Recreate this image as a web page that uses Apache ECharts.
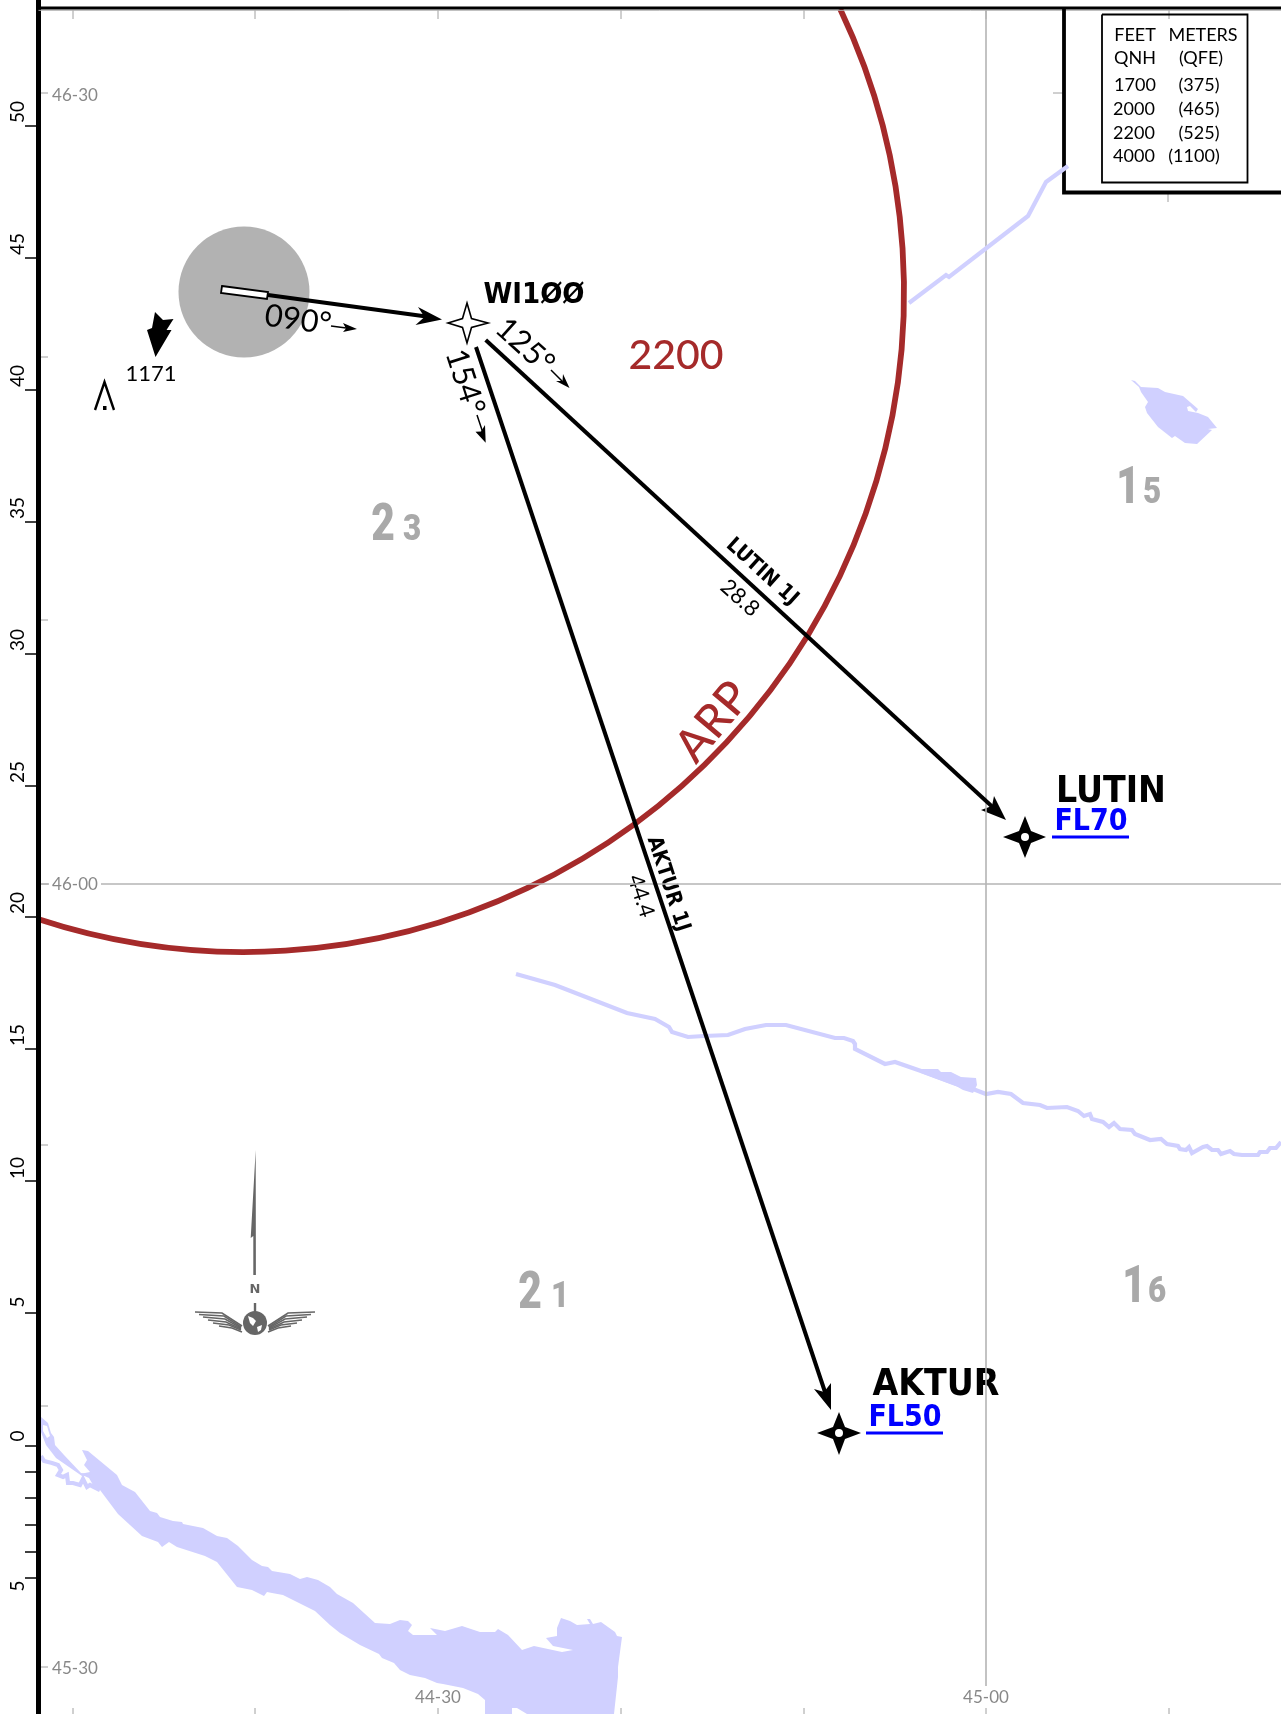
<!DOCTYPE html>
<html><head><meta charset="utf-8">
<script src="https://cdn.jsdelivr.net/npm/echarts@6/dist/echarts.min.js"></script>
<style>html,body{margin:0;padding:0;background:#fff}#c{width:1281px;height:1714px}</style>
</head><body><div id="c"></div>
<script>
// Map plane readings (x east, y south)
const planeWidth = 1281, planeHeight = 1714;
const lonTicks = [73, 255, 438, 621, 804, 986, 1169];
const latTicks = [93, 357, 620, 884, 1145, 1406, 1667];
const rulerMajor = [126, 258, 390, 522, 654, 786, 917, 1049, 1181, 1313, 1446, 1578];
const rulerMinor = [1472, 1498, 1525, 1552];
const rulerLabels = ['50','45','40','35','30','25','20','15','10','5','0','5'];
const rulerLabelAt = [112, 244, 376, 508, 640, 772, 903, 1035, 1168, 1302, 1436, 1586];

const arpCenter = [244, 292];
const arpRadius = 660;
const arpArcDeg = [-25.4, 108.2];
const aerodromeRadius = 65.5;

const frameLeft = [[38.5,0],[38.5,1714]];
const frameTop = [[38.5,8],[1281,8]];
const frameTopShade = [[38.5,10.3],[1281,10.3]];
const legendOuter = [[1064,8],[1064,192.5],[1281,192.5]];
const legendInner = [[1102,14.5],[1247.5,14.5],[1247.5,182.5],[1102,182.5],[1102,14.5]];
const legendStubs = [[[1053,93],[1063,93]],[[1168,194],[1168,202]]];

const meridian45 = [[986,10],[986,1686]];
const parallel46 = [[41,884],[49,884]];
const parallel46b = [[101,884],[1281,884]];

const riverNorth = [[909,303],[946,275],[949,277],[1028,216],[1046,182],[1068,166]];
const riverMain = [[516,974],[555,985],[627,1013],[655,1019],[669,1027],[672,1032],[688,1037],[704,1036],[728,1035],[745,1029],[766,1025],[786,1025],[835,1038],[844,1038],[853,1041],[855,1044],[855,1049],[885,1064],[895,1062],[921,1071],[956,1084],[973,1089],[986,1094],[998,1092],[1011,1094],[1023,1103],[1040,1105],[1047,1108],[1067,1107],[1078,1111],[1084,1116],[1090,1114],[1092,1119],[1103,1122],[1109,1127],[1114,1123],[1120,1129],[1132,1130],[1135,1134],[1150,1140],[1161,1139],[1167,1144],[1178,1146],[1180,1149],[1186,1150],[1189,1147],[1192,1153],[1203,1147],[1207,1146],[1212,1150],[1218,1150],[1221,1154],[1230,1151],[1234,1154],[1242,1155],[1258,1155],[1260,1152],[1267,1152],[1270,1148],[1276,1148],[1281,1142]];
const riverBulge = [[921,1069],[938,1069],[941,1072],[951,1072],[961,1077],[976,1078],[977,1085],[973,1093],[963,1090],[956,1086],[921,1073]];
const lake = [[1131,380],[1135,381],[1141,387],[1158,388],[1165,392],[1183,396],[1198,409],[1196,412],[1190,406],[1187,407],[1188,411],[1198,413],[1208,417],[1217,428],[1208,429],[1212,430],[1197,444],[1185,443],[1175,436],[1172,438],[1158,427],[1147,413],[1145,407],[1148,402],[1141,392],[1139,387]];
const bigRiver = [[82,1450],[88,1451],[117,1475],[122,1485],[135,1492],[150,1511],[157,1513],[160,1517],[173,1521],[182,1522],[183,1524],[203,1528],[217,1536],[227,1538],[238,1546],[252,1560],[262,1566],[268,1567],[272,1571],[290,1574],[300,1579],[307,1577],[318,1580],[330,1587],[337,1594],[353,1603],[375,1623],[390,1624],[400,1620],[408,1621],[412,1625],[408,1631],[413,1635],[437,1635],[430,1628],[445,1631],[462,1626],[480,1632],[495,1632],[498,1629],[508,1635],[522,1650],[534,1646],[562,1652],[573,1650],[553,1646],[546,1638],[557,1636],[557,1628],[561,1618],[570,1621],[577,1625],[590,1624],[587,1619],[590,1619],[593,1624],[601,1622],[615,1632],[617,1636],[622,1637],[618,1667],[618,1677],[614,1714],[527,1714],[517,1708],[512,1708],[512,1714],[485,1714],[485,1700],[478,1694],[463,1688],[443,1684],[437,1683],[425,1678],[410,1675],[400,1670],[394,1663],[382,1658],[379,1654],[360,1645],[340,1633],[330,1625],[315,1611],[297,1602],[283,1595],[272,1593],[267,1592],[264,1596],[252,1590],[237,1587],[217,1562],[205,1556],[177,1547],[169,1542],[162,1547],[158,1542],[142,1536],[118,1514],[100,1490],[93,1485],[89,1478],[80,1474],[90,1472],[84,1465],[87,1460]];
const riverWest = [[41,1417],[48,1423],[51,1433],[54,1437],[55,1445],[64,1455],[81,1473],[92,1475],[82,1476],[56,1458],[46,1445],[41,1432]];
const riverWestHole = [[43,1425],[47,1426],[50,1436],[47,1438],[43,1431]];
const riverWestArm = [[41,1456],[44,1461],[52,1463],[58,1465],[61,1470],[58,1475],[63,1477],[67,1475],[68,1483],[73,1483],[80,1485],[83,1479],[87,1487],[90,1485],[100,1490]];

const runway = [[222,286],[268,292],[267,299],[221,293]];
const outboundLeg = [[268,295],[430,317]];
const outboundHead = [[442,319.5],[418,307],[424.5,317],[415.5,325]];
const lutinLeg = [[485.7,340],[998,812]];
const lutinHead = [[1006,820],[994,796],[992,806],[981,810]];
const akturLeg = [[476,347],[826,1395]];
const akturHead = [[831,1410],[831,1383],[824,1392],[814,1389]];

const headingArrow090 = [[331,326],[350,328.5]];
const headingHead090 = [[357,329],[343,323],[346,328.5],[343,332]];
const headingArrow125 = [[551,370],[565,384]];
const headingHead125 = [[569.5,388],[563,374],[562.5,381],[556,381]];
const headingArrow154 = [[477,415],[484,436]];
const headingHead154 = [[485.7,442.7],[485,425],[481,431.5],[475.5,431.7]];

const fixWI100 = [[467,303],[471.5,318.5],[488,323],[471.5,327.5],[467,343],[462.5,327.5],[448,323],[462.5,318.5]];
const fixLutin = [[1025,816],[1031,831],[1046,837],[1031,843],[1025,858],[1019,843],[1003,837],[1019,831]];
const fixAktur = [[839,1412],[845,1427],[861,1433],[845,1439],[839,1455],[833,1439],[817,1433],[833,1427]];
const fixCentres = [[1025,837],[839,1433]];
const fl70Rule = [[1052,837],[1129,837]];
const fl50Rule = [[866,1433],[943,1433]];

const obstacleArrow = [[155,312],[163,320],[173.5,319],[166.5,330],[171.5,330],[155.5,357],[147,330],[152,328]];
const obstacleMast = [[95,410],[104.5,382],[114,410]];
const obstacleDot = [[103,406],[106.5,406],[106.5,410],[103,410]];

const needle = [[255.7,1150],[250.7,1238],[253.3,1236],[253.3,1275],[255.9,1275]];
const needleStem = [[255,1303],[255,1314]];
const globeCentre = [255,1323];
const globeRadius = 12;
const continentNorth = [[248,1316],[253,1318],[256,1321],[253,1326],[250,1323]];
const continentSouth = [[257,1327],[262,1325],[261,1330],[258,1332]];
const wingFeathers = [
  [[195,1312],[222,1313],[242,1326]],
  [[199,1314.5],[224,1316],[241,1327]],
  [[203,1317],[225,1319],[241,1328]],
  [[208,1320],[226,1322],[241,1329]],
  [[213,1323],[229,1325],[241,1330]],
  [[219,1326],[232,1328],[242,1332]],
  [[315,1312],[288,1313],[268,1326]],
  [[311,1314.5],[286,1316],[269,1327]],
  [[307,1317],[285,1319],[269,1328]],
  [[302,1320],[284,1322],[269,1329]],
  [[297,1323],[281,1325],[269,1330]],
  [[291,1326],[278,1328],[268,1332]]
];

// text, x, y, degrees counter-clockwise, look
const texts = [
  ['46-30',75,96,0,'coord'],['46-00',75,885,0,'coord'],['45-30',75,1669,0,'coord'],
  ['44-30',438,1698,0,'coord'],['45-00',986,1698,0,'coord'],
  ['090°',298,320,-8,'heading'],['125°',525,346,-42,'heading'],['154°',465,382,-72,'heading'],
  ['WI1ØØ',534,295,0,'fixSmall'],['LUTIN',1111,792,0,'fix'],['AKTUR',936,1385,0,'fix'],
  ['FL70',1091,822,0,'level'],['FL50',905,1418,0,'level'],
  ['LUTIN 1J',762,572,-42,'route'],['AKTUR 1J',668,884,-72,'route'],
  ['28.8',740,598,-42,'dist'],['44.4',641,896,-72,'dist'],
  ['2200',676,356,0,'alt'],['ARP',713,722,50,'arp'],
  ['1171',151,374,0,'elev'],
  ['FEET',1135,35,0,'legend'],['METERS',1203,35,0,'legend'],
  ['QNH',1135,58,0,'legend'],['(QFE)',1201,58,0,'legend'],
  ['1700',1135,85,0,'legend'],['(375)',1199,85,0,'legend'],
  ['2000',1134,109,0,'legend'],['(465)',1199,109,0,'legend'],
  ['2200',1134,133,0,'legend'],['(525)',1199,133,0,'legend'],
  ['4000',1134,156,0,'legend'],['(1100)',1194,156,0,'legend'],
  ['N',255,1290,0,'north']
];
// first digit, second digit of each sector altitude, with their anchors
const sectorDigits = [
  ['2',383,527,'mseaBig'],['3',412,531,'mseaSmall'],
  ['1',1128,490,'mseaBig'],['5',1152,494,'mseaSmall'],
  ['2',530,1295,'mseaBig'],['1',560,1298,'mseaSmall'],
  ['1',1134,1289,'mseaBig'],['6',1157,1293,'mseaSmall']
];

const LOOKS = {
  coord:{f:'Lato',s:17,c:'#888888'},
  heading:{f:'Lato',s:31,c:'#000'},
  fixSmall:{f:'DejaVu Sans Condensed',s:29,w:'bold',c:'#000'},
  fix:{f:'DejaVu Sans Condensed',s:37,w:'bold',c:'#000'},
  level:{f:'DejaVu Sans Condensed',s:30,w:'bold',c:'#0000ff'},
  route:{f:'DejaVu Sans Condensed',s:21,w:'bold',c:'#000'},
  dist:{f:'Lato',s:22,c:'#000'},
  alt:{f:'Lato',s:41,w:'500',c:'#a52a2a'},
  arp:{f:'Lato',s:46,w:'500',c:'#a52a2a'},
  elev:{f:'Lato',s:22,c:'#000'},
  legend:{f:'Lato',s:18,c:'#000'},
  north:{f:'DejaVu Sans',s:13,w:'bold',c:'#666'},
  ruler:{f:'Lato',s:19,c:'#000'},
  mseaBig:{f:'Roboto',s:51,w:'900',c:'#a9a9a9',sx:.8},
  mseaSmall:{f:'Roboto',s:37,w:'900',c:'#a9a9a9',sx:.85}
};

const series = [];
const base = {silent:true, animation:false, clip:false};
function polyline(points, color, width, extra){
  series.push(Object.assign({type:'line', data:points, showSymbol:false, symbol:'none',
    lineStyle:{color:color, width:width, join:'miter', cap:'butt'}}, base, extra||{}));
}
function polygon(points, fill, stroke, sw){
  series.push(Object.assign({type:'custom', data:[points[0]],
    renderItem:function(p, api){
      return {type:'polygon', shape:{points:points.map(function(q){return api.coord(q);})},
        style:{fill:fill, stroke:stroke||null, lineWidth:sw||0, lineJoin:'miter'}};
    }}, base));
}
function segments(pairs, color, width){
  series.push(Object.assign({type:'custom', data:pairs.map(function(q){return q[0];}),
    renderItem:function(p, api){
      const q = pairs[p.dataIndex], a = api.coord(q[0]), b = api.coord(q[1]);
      return {type:'line', shape:{x1:a[0],y1:a[1],x2:b[0],y2:b[1]}, style:{stroke:color, lineWidth:width}};
    }}, base));
}
function disc(centres, r, fill){
  series.push(Object.assign({type:'custom', data:centres,
    renderItem:function(p, api){
      const a = api.coord(centres[p.dataIndex]);
      return {type:'circle', shape:{cx:a[0],cy:a[1],r:api.size([r,0])[0]}, style:{fill:fill}};
    }}, base));
}
function textLayer(rows){
  series.push(Object.assign({type:'custom', data:rows.map(function(r){return [r[1],r[2]];}),
    renderItem:function(p, api){
      const r = rows[p.dataIndex], L = LOOKS[r[4]], a = api.coord([r[1],r[2]]);
      return {type:'text', x:a[0], y:a[1], rotation:r[3]*Math.PI/180, scaleX:L.sx||1,
        style:{text:r[0], x:0, y:0, align:'center', verticalAlign:'middle', fill:L.c,
          font:(L.w||'normal')+' '+L.s+'px "'+L.f+'"'}};
    }}, base));
}

// water
polyline(riverMain,'#d0d0ff',4.2);
polygon(riverBulge,'#d0d0ff');
polygon(lake,'#d0d0ff');
polygon(bigRiver,'#d0d0ff');
polygon(riverWest,'#d0d0ff');
polygon(riverWestHole,'#ffffff');
polyline(riverWestArm,'#d0d0ff',4.2);

// graticule
polyline(meridian45,'#b4b4b4',1.6);
polyline(parallel46,'#b4b4b4',1.6);
polyline(parallel46b,'#b4b4b4',1.6);
segments(lonTicks.map(function(x){return [[x,10],[x,19]];}),'#a0a0a0',1);
segments(lonTicks.map(function(x){return [[x,1708],[x,1714]];}),'#a0a0a0',1);
segments(latTicks.map(function(y){return [[41,y],[48,y]];}),'#a0a0a0',1);
segments(legendStubs,'#a0a0a0',1);

// ruler
segments(rulerMajor.map(function(y){return [[25,y],[37,y]];}),'#000',1.5);
segments(rulerMinor.map(function(y){return [[25,y],[37,y]];}),'#000',1.5);
const rulerRows = rulerLabels.map(function(t,i){return [t,17.5,rulerLabelAt[i],90,'ruler'];});

// aerodrome and ARP circle
disc([arpCenter],aerodromeRadius,'#b2b2b2');
series.push(Object.assign({type:'custom', data:[arpCenter],
  renderItem:function(p, api){
    const a = api.coord(arpCenter);
    return {type:'arc', shape:{cx:a[0],cy:a[1],r:api.size([arpRadius,0])[0],
      startAngle:arpArcDeg[0]*Math.PI/180,endAngle:arpArcDeg[1]*Math.PI/180,clockwise:true},
      style:{fill:null,stroke:'#a52a2a',lineWidth:5.8}};
  }}, base));

// routes
polyline(outboundLeg,'#000',3.8);
polygon(outboundHead,'#000');
polyline(lutinLeg,'#000',4);
polygon(lutinHead,'#000');
polyline(akturLeg,'#000',4);
polygon(akturHead,'#000');
polygon(runway,'#fff','#000',1.8);
polyline(headingArrow090,'#000',1.5); polygon(headingHead090,'#000');
polyline(headingArrow125,'#000',1.5); polygon(headingHead125,'#000');
polyline(headingArrow154,'#000',1.5); polygon(headingHead154,'#000');

// fixes
polygon(fixWI100,'#fff','#000',1.6);
polygon(fixLutin,'#000');
polygon(fixAktur,'#000');
disc(fixCentres,4,'#fff');
polyline(fl70Rule,'#0000ff',2.8);
polyline(fl50Rule,'#0000ff',2.8);

// obstacle
polygon(obstacleArrow,'#000');
polyline(obstacleMast,'#000',2.4);
polygon(obstacleDot,'#000');

// north arrow
polygon(needle,'#666');
polyline(needleStem,'#666',2.4);
disc([globeCentre],globeRadius,'#666');
polygon(continentNorth,'#fff');
polygon(continentSouth,'#fff');
wingFeathers.forEach(function(w){polyline(w,'#666',1.6);});

// frame
polyline(frameLeft,'#000',5);
polyline(frameTopShade,'#b0b0b0',1);
polyline(frameTop,'#000',3);
polyline(legendOuter,'#000',3.8);
polyline(legendInner,'#000',1.8);
polyline(riverNorth,'#d0d0ff',4.2);

textLayer(texts);
textLayer(rulerRows);
textLayer(sectorDigits.map(function(d){return [d[0],d[1],d[2],0,d[3]];}));

const chart = echarts.init(document.getElementById('c'),null,{renderer:'canvas',width:planeWidth,height:planeHeight});
chart.setOption({
  animation:false, backgroundColor:'#fff',
  grid:{left:0,right:0,top:0,bottom:0,containLabel:false},
  xAxis:{type:'value',min:0,max:planeWidth,show:false},
  yAxis:{type:'value',min:0,max:planeHeight,inverse:true,show:false},
  tooltip:{show:false}, legend:{show:false},
  series:series
});
</script></body></html>
